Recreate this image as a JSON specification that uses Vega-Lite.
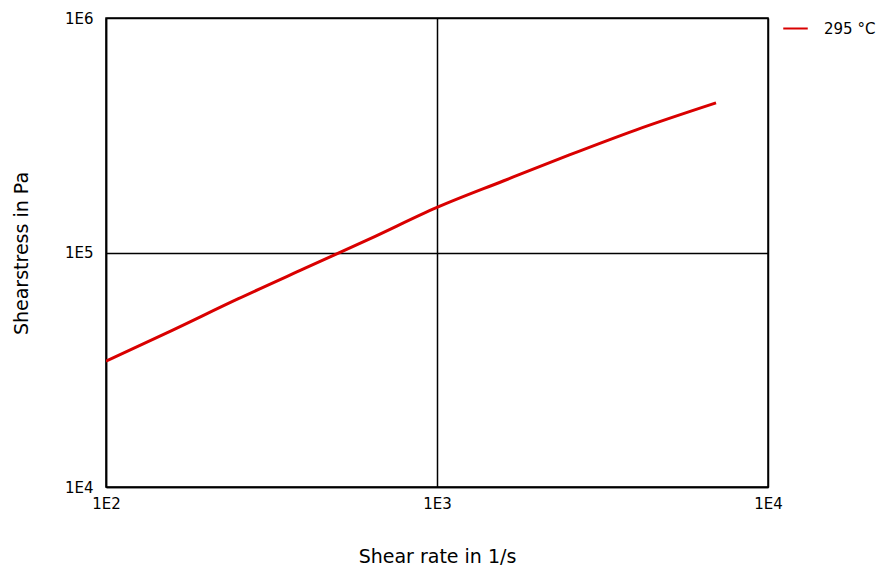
{
  "$schema": "https://vega.github.io/schema/vega-lite/v6.json",
  "width": 662,
  "height": 469,
  "autosize": "none",
  "padding": {"left": 106, "top": 18, "right": 116, "bottom": 79},
  "background": "white",
  "config": {
    "view": {"stroke": "black", "strokeWidth": 1.5},
    "font": "DejaVu Sans"
  },
  "data": {
    "values": [
      {"rate": 100, "stress": 34400, "series": "295 °C"},
      {"rate": 158.5, "stress": 46560, "series": "295 °C"},
      {"rate": 251.2, "stress": 63530, "series": "295 °C"},
      {"rate": 398.1, "stress": 85500, "series": "295 °C"},
      {"rate": 631, "stress": 114800, "series": "295 °C"},
      {"rate": 1000, "stress": 155600, "series": "295 °C"},
      {"rate": 1585, "stress": 201800, "series": "295 °C"},
      {"rate": 2512, "stress": 260600, "series": "295 °C"},
      {"rate": 3981, "stress": 332700, "series": "295 °C"},
      {"rate": 6966, "stress": 434500, "series": "295 °C"}
    ]
  },
  "mark": {"type": "line", "strokeWidth": 3, "interpolate": "monotone", "clip": true},
  "encoding": {
    "x": {
      "field": "rate",
      "type": "quantitative",
      "scale": {"type": "log", "domain": [100, 10000], "nice": false},
      "axis": {
        "values": [100, 1000, 10000],
        "labelExpr": "datum.value == 100 ? '1E2' : datum.value == 1000 ? '1E3' : '1E4'",
        "title": "Shear rate in 1/s",
        "titleFontSize": 19,
        "titleFontWeight": "normal",
        "titleColor": "black",
        "titleY": 69,
        "titleBaseline": "middle",
        "labelFontSize": 15,
        "labelColor": "black",
        "labelPadding": 9,
        "ticks": false,
        "grid": true,
        "gridColor": "black",
        "gridOpacity": 1,
        "gridWidth": 1.5,
        "domainColor": "black",
        "domainWidth": 1.5,
        "labelFlush": false
      }
    },
    "y": {
      "field": "stress",
      "type": "quantitative",
      "scale": {"type": "log", "domain": [10000, 1000000], "nice": false},
      "axis": {
        "values": [10000, 100000, 1000000],
        "labelExpr": "datum.value == 10000 ? '1E4' : datum.value == 100000 ? '1E5' : '1E6'",
        "title": "Shearstress in Pa",
        "titleFontSize": 19,
        "titleFontWeight": "normal",
        "titleColor": "black",
        "titleX": -85,
        "titleY": 235,
        "titleAlign": "center",
        "titleBaseline": "middle",
        "titleAngle": 270,
        "labelFontSize": 15,
        "labelColor": "black",
        "labelPadding": 13,
        "labelBaseline": "middle",
        "ticks": false,
        "grid": true,
        "gridColor": "black",
        "gridOpacity": 1,
        "gridWidth": 1.5,
        "domainColor": "black",
        "domainWidth": 1.5,
        "labelFlush": false
      }
    },
    "color": {
      "field": "series",
      "type": "nominal",
      "scale": {"range": ["#d90000"]},
      "legend": {
        "title": null,
        "orient": "none",
        "legendX": 676,
        "legendY": -3,
        "symbolType": "stroke",
        "symbolStrokeWidth": 2,
        "symbolSize": 600,
        "labelFontSize": 15,
        "labelColor": "black",
        "labelOffset": 15
      }
    }
  }
}
